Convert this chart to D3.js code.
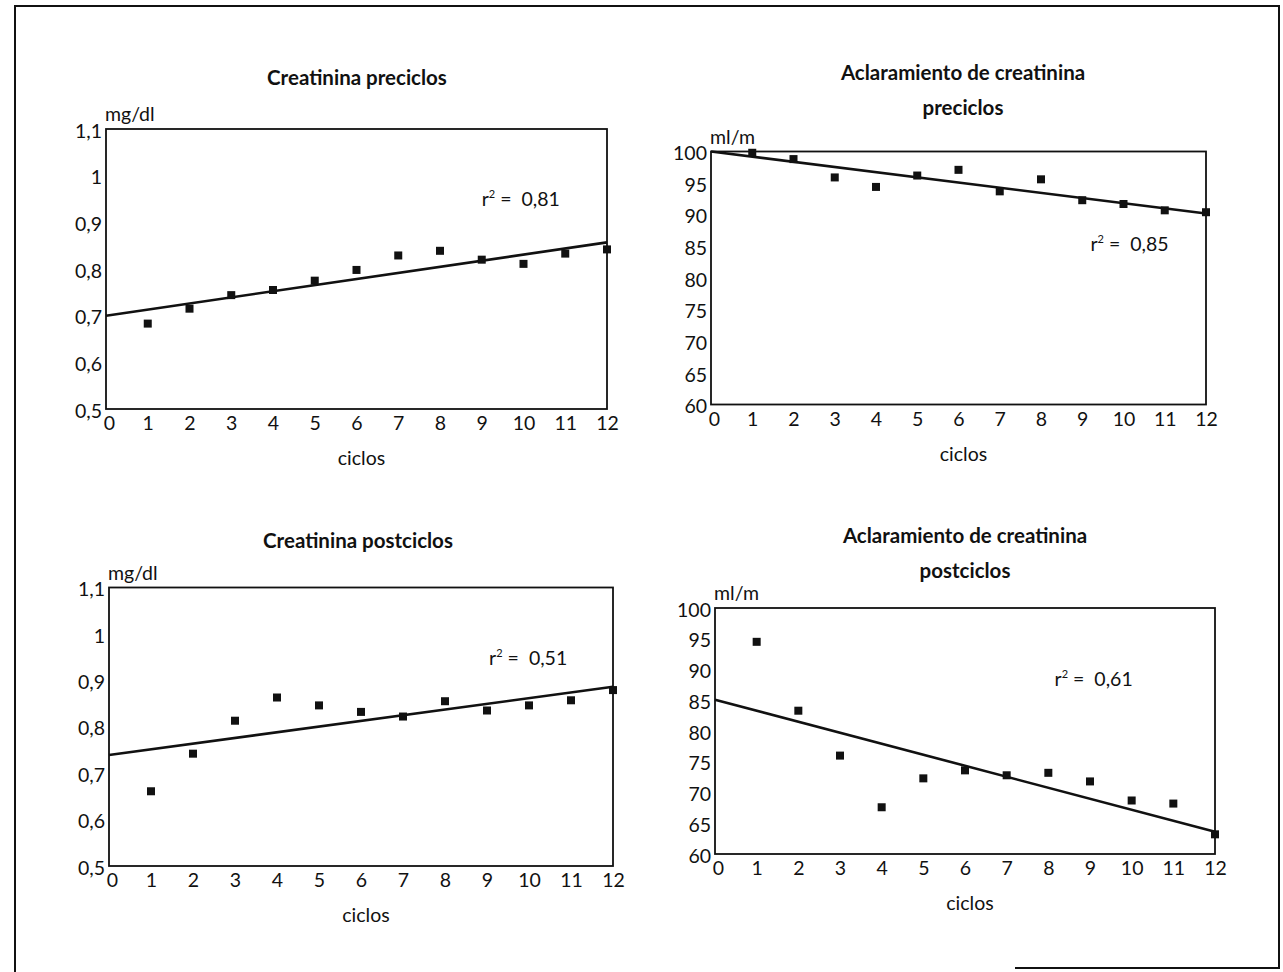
<!DOCTYPE html>
<html>
<head>
<meta charset="utf-8">
<script src="https://cdn.jsdelivr.net/npm/d3@7"></script>
<style>
  html, body { margin: 0; padding: 0; background: #fff; }
  svg { display: block; }
  text { font-family: Lato, "Open Sans", sans-serif; fill: #111; }
</style>
</head>
<body>
<svg id="chart" width="1283" height="972"></svg>
<script>
// ---------- DATA ----------
const cycles = [1, 2, 3, 4, 5, 6, 7, 8, 9, 10, 11, 12];
const xTicks = [0, 1, 2, 3, 4, 5, 6, 7, 8, 9, 10, 11, 12];
const yTicksCreat = [0.5, 0.6, 0.7, 0.8, 0.9, 1.0, 1.1];
const yTicksAcl = [60, 65, 70, 75, 80, 85, 90, 95, 100];

const creatPre  = [0.683, 0.715, 0.744, 0.755, 0.775, 0.798, 0.829, 0.839, 0.820, 0.811, 0.833, 0.842];
const creatPost = [0.661, 0.742, 0.813, 0.863, 0.846, 0.832, 0.822, 0.855, 0.835, 0.846, 0.857, 0.879];
const aclPre    = [99.8, 98.8, 95.9, 94.4, 96.2, 97.1, 93.7, 95.6, 92.3, 91.7, 90.7, 90.4];
const aclPost   = [94.5, 83.3, 76.0, 67.6, 72.3, 73.6, 72.8, 73.2, 71.8, 68.7, 68.2, 63.2];

// regression line values at cycle 0 and cycle 12
const trendCycles = [0, 12];
const trendCreatPre  = [0.700, 0.857];
const trendCreatPost = [0.739, 0.886];
const trendAclPre    = [100.0, 90.2];
const trendAclPost   = [85.1, 63.6];

const r2Values = ["0,81", "0,51", "0,85", "0,61"];
const titles = [
  ["Creatinina preciclos"],
  ["Creatinina postciclos"],
  ["Aclaramiento de creatinina", "preciclos"],
  ["Aclaramiento de creatinina", "postciclos"]
];
const units = ["mg/dl", "mg/dl", "ml/m", "ml/m"];
const xLabel = "ciclos";

// ---------- LAYOUT ----------
const panels = [
  { values: creatPre,  trend: trendCreatPre,  ticks: yTicksCreat, domain: [0.5, 1.1],
    left: 106, right: 607, top: 129, bottom: 409, cx: 357, titleY: [85], r2At: [9.0, 0.935] },
  { values: creatPost, trend: trendCreatPost, ticks: yTicksCreat, domain: [0.5, 1.1],
    left: 109, right: 613, top: 587.5, bottom: 866, cx: 358, titleY: [548], r2At: [9.05, 0.932] },
  { values: aclPre,    trend: trendAclPre,    ticks: yTicksAcl,   domain: [60, 100],
    left: 711, right: 1206, top: 151.5, bottom: 404.5, cx: 963, titleY: [80, 115], r2At: [9.2, 84.2] },
  { values: aclPost,   trend: trendAclPost,   ticks: yTicksAcl,   domain: [60, 100],
    left: 715, right: 1215, top: 608, bottom: 854, cx: 965, titleY: [543, 578], r2At: [8.15, 87.3] }
];

const FS = 19.5;       // regular text size
const FS_TITLE = 20.5; // bold titles

const locale = d3.formatLocale({ decimal: ",", thousands: ".", grouping: [3], currency: ["", "€"] });
const fmt = locale.format("~g");

const svg = d3.select("#chart");

// outer frame
const frame = d3.path();
frame.moveTo(15, 972); frame.lineTo(15, 6); frame.lineTo(1279, 6); frame.lineTo(1279, 968); frame.lineTo(1015, 968);
svg.append("path").attr("d", frame.toString()).attr("fill", "none").attr("stroke", "#111").attr("stroke-width", 2);

panels.forEach((p, i) => {
  const x = d3.scaleLinear().domain([0, 12]).range([p.left, p.right]);
  const y = d3.scaleLinear().domain(p.domain).range([p.bottom, p.top]);
  const g = svg.append("g");

  // title
  titles[i].forEach((t, k) => {
    g.append("text").attr("x", p.cx).attr("y", p.titleY[k])
      .attr("text-anchor", "middle").attr("font-weight", "bold").attr("font-size", FS_TITLE)
      .text(t);
  });

  // unit label
  g.append("text").attr("x", p.left - 1).attr("y", p.top - 8)
    .attr("font-size", FS).text(units[i]);

  // y axis
  const yAxis = d3.axisLeft(y).tickValues(p.ticks).tickSize(0).tickPadding(4).tickFormat(fmt);
  const ya = g.append("g").attr("transform", `translate(${p.left},0)`).call(yAxis);
  ya.select(".domain").remove();
  ya.selectAll("text").attr("font-size", FS).attr("font-family", "Lato, sans-serif")
    .attr("fill", "#111").attr("dy", "0.42em");

  // x axis
  const xAxis = d3.axisBottom(x).tickValues(xTicks).tickSize(0).tickPadding(7).tickFormat(d3.format("d"));
  const xa = g.append("g").attr("transform", `translate(0,${p.bottom})`).call(xAxis);
  xa.select(".domain").remove();
  xa.selectAll("text").attr("font-size", FS).attr("font-family", "Lato, sans-serif")
    .attr("fill", "#111").attr("dy", "0.72em");
  xa.selectAll(".tick").filter(d => d === 0).select("text").attr("dx", 3);

  // x label
  g.append("text").attr("x", (p.left + p.right) / 2 + 5).attr("y", p.bottom + 56)
    .attr("text-anchor", "middle").attr("font-size", FS).text(xLabel);

  // plot frame
  g.append("rect").attr("x", p.left).attr("y", p.top)
    .attr("width", p.right - p.left).attr("height", p.bottom - p.top)
    .attr("fill", "none").attr("stroke", "#111").attr("stroke-width", 1.8);

  // trend line
  const line = d3.line().x(d => x(d[0])).y(d => y(d[1]));
  g.append("path").datum(trendCycles.map((c, k) => [c, p.trend[k]]))
    .attr("d", line).attr("fill", "none").attr("stroke", "#111").attr("stroke-width", 2.6);

  // points
  const s = 8;
  g.selectAll("rect.pt").data(cycles.map((c, k) => [c, p.values[k]])).enter()
    .append("rect").attr("class", "pt")
    .attr("x", d => x(d[0]) - s / 2).attr("y", d => y(d[1]) - s / 2)
    .attr("width", s).attr("height", s).attr("fill", "#111");

  // r² annotation
  const t = g.append("text").attr("x", x(p.r2At[0])).attr("y", y(p.r2At[1]))
    .attr("font-size", FS).attr("xml:space", "preserve").style("white-space", "pre");
  t.append("tspan").text("r");
  t.append("tspan").attr("font-size", 11).attr("dy", -8).text("2");
  t.append("tspan").attr("dy", 8).text(" =  " + r2Values[i]);
});
</script>
</body>
</html>
